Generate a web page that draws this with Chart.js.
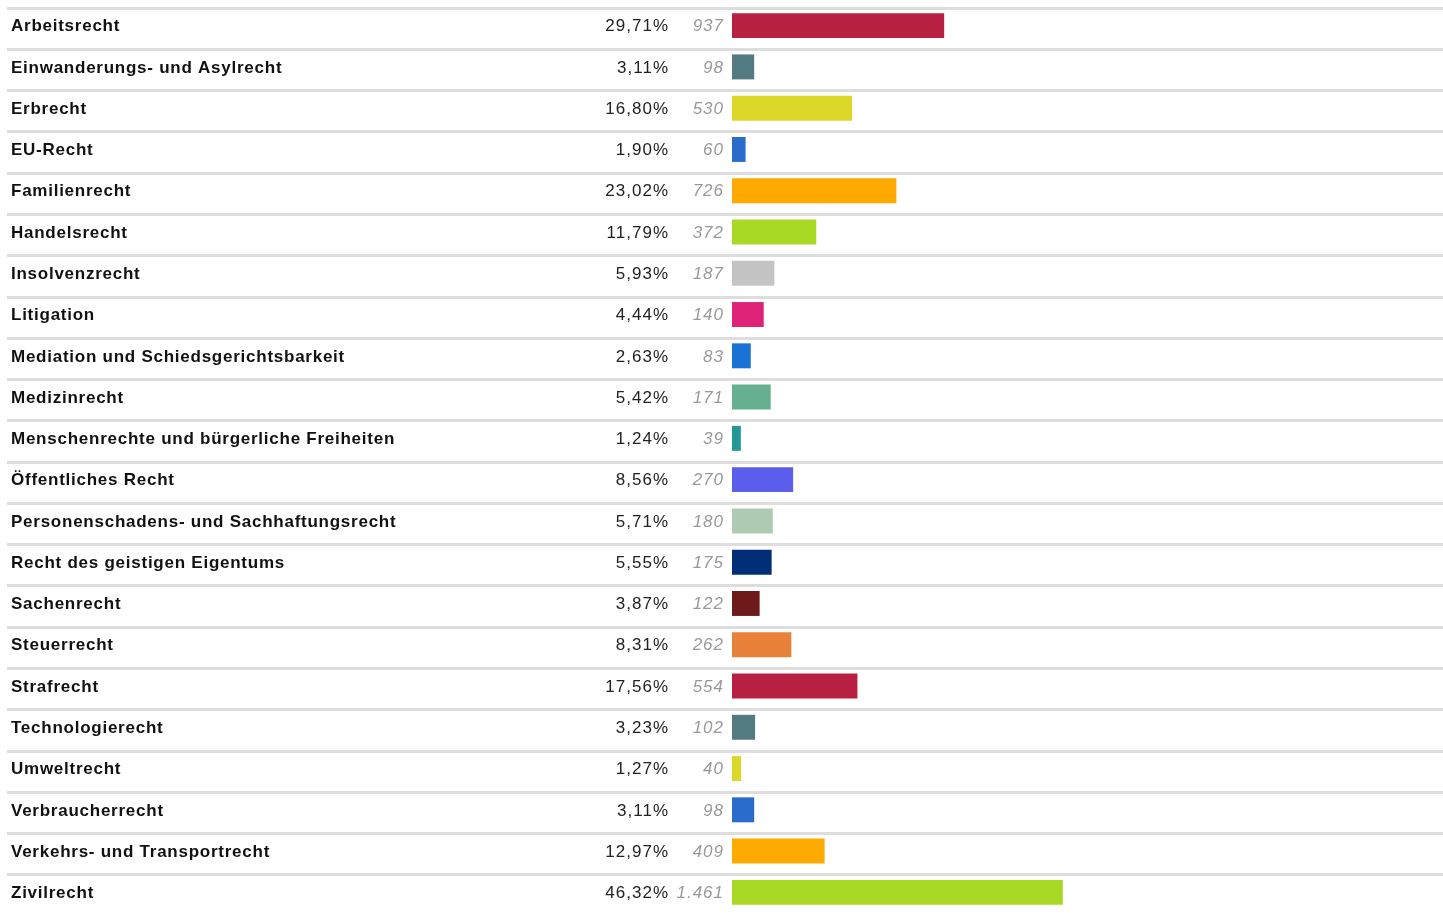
<!DOCTYPE html>
<html>
<head>
<meta charset="utf-8">
<script src="https://cdn.jsdelivr.net/npm/chart.js@4/dist/chart.umd.min.js"></script>
<style>
html,body{margin:0;padding:0;background:#fff;}
#wrap{width:1443px;height:913px;position:relative;}
</style>
</head>
<body>
<div id="wrap"><canvas id="c"></canvas></div>
<script>
const categories = ["Arbeitsrecht","Einwanderungs- und Asylrecht","Erbrecht","EU-Recht","Familienrecht","Handelsrecht","Insolvenzrecht","Litigation","Mediation und Schiedsgerichtsbarkeit","Medizinrecht","Menschenrechte und bürgerliche Freiheiten","Öffentliches Recht","Personenschadens- und Sachhaftungsrecht","Recht des geistigen Eigentums","Sachenrecht","Steuerrecht","Strafrecht","Technologierecht","Umweltrecht","Verbraucherrecht","Verkehrs- und Transportrecht","Zivilrecht"];
const counts = [937,98,530,60,726,372,187,140,83,171,39,270,180,175,122,262,554,102,40,98,409,1461];
const percentLabels = ["29,71%","3,11%","16,80%","1,90%","23,02%","11,79%","5,93%","4,44%","2,63%","5,42%","1,24%","8,56%","5,71%","5,55%","3,87%","8,31%","17,56%","3,23%","1,27%","3,11%","12,97%","46,32%"];
const countLabels = ["937","98","530","60","726","372","187","140","83","171","39","270","180","175","122","262","554","102","40","98","409","1.461"];
const palette = ["#b82042","#527a80","#dbd82a","#2a6ccc","#ffaa00","#a8d924","#c4c4c4","#dd2277","#1a73d4","#66b08f","#249797","#5a5eea","#aecab2","#002f78","#6e1a1a","#e8823a"];
const colors = categories.map((_, i) => palette[i % palette.length]);

const tablePlugin = {
  id: 'tablePlugin',
  beforeDatasetsDraw(chart) {
    const ctx = chart.ctx;
    const y = chart.scales.y;
    ctx.save();
    ctx.fillStyle = '#dddddd';
    categories.forEach((c, i) => {
      const cy = y.getPixelForValue(i);
      ctx.fillRect(7, Math.round(cy - 19), chart.width - 7, 3);
    });
    ctx.restore();
  },
  afterDatasetsDraw(chart) {
    const ctx = chart.ctx;
    const y = chart.scales.y;
    ctx.save();
    ctx.textBaseline = 'middle';
    categories.forEach((c, i) => {
      const cy = y.getPixelForValue(i) + 1;
      ctx.font = 'bold 17px "Liberation Sans", Arial, sans-serif';
      ctx.letterSpacing = '0.75px';
      ctx.fillStyle = '#111111';
      ctx.textAlign = 'left';
      ctx.fillText(c, 11, cy);
      ctx.font = '17px "Liberation Sans", Arial, sans-serif';
      ctx.letterSpacing = '1px';
      ctx.fillStyle = '#222222';
      ctx.textAlign = 'right';
      ctx.fillText(percentLabels[i], 669, cy);
      ctx.font = 'italic 17px "Liberation Sans", Arial, sans-serif';
      ctx.fillStyle = '#999999';
      ctx.fillText(countLabels[i], 724, cy);
    });
    ctx.restore();
  }
};

new Chart(document.getElementById('c'), {
  type: 'bar',
  data: {
    labels: categories,
    datasets: [{
      data: counts,
      backgroundColor: colors,
      borderWidth: 0,
      barPercentage: 0.605,
      categoryPercentage: 1.0
    }]
  },
  options: {
    indexAxis: 'y',
    responsive: true,
    maintainAspectRatio: false,
    animation: false,
    layout: { padding: { left: 732, right: 0, top: 5, bottom: 0 } },
    plugins: { legend: { display: false }, tooltip: { enabled: false } },
    scales: {
      x: { display: false, min: 0, max: 3140, grid: { display: false } },
      y: { display: false, grid: { display: false } }
    }
  },
  plugins: [tablePlugin]
});
</script>
</body>
</html>
